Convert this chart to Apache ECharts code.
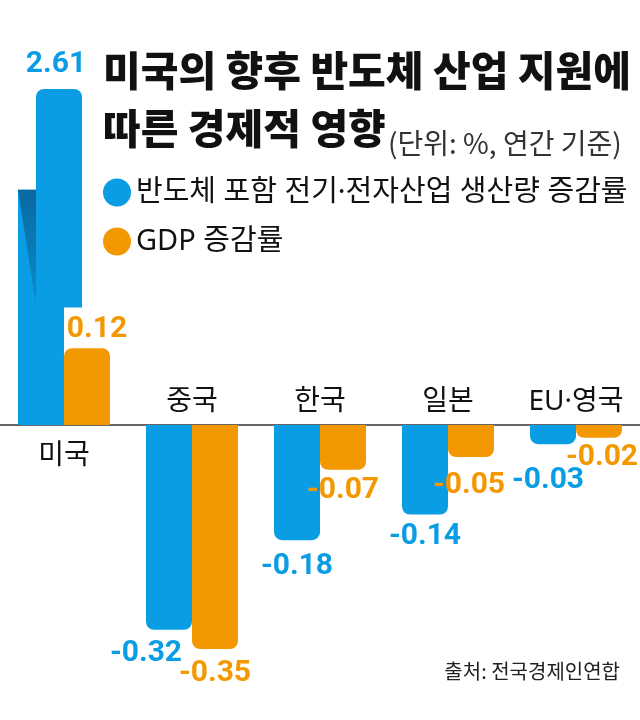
<!DOCTYPE html>
<html>
<head>
<meta charset="utf-8">
<script src="https://cdn.jsdelivr.net/npm/echarts@6/dist/echarts.min.js"></script>
<style>
html,body{margin:0;padding:0;background:#fff;}
#chart{width:640px;height:720px;}
</style>
</head>
<body>
<div id="chart"></div>
<script>
// ---- data ----
const categories = ['미국', '중국', '한국', '일본', 'EU·영국'];
const chipOutput = [2.61, -0.32, -0.18, -0.14, -0.03];
const gdpGrowth = [0.12, -0.35, -0.07, -0.05, -0.02];
const seriesNames = ['반도체 포함 전기·전자산업 생산량 증감률', 'GDP 증감률'];
const titleLines = ['미국의 향후 반도체 산업 지원에', '따른 경제적 영향'];
const unitText = '(단위: %, 연간 기준)';
const sourceText = '출처: 전국경제인연합';

// ---- style ----
const BLUE = '#0b9de3';
const ORANGE = '#f39800';
const BAR_W = 46;
const RADIUS = 8;
const FOLD_SHIFT = 18;
const LABEL_FONT = 'bold 30px Roboto, "Noto Sans", sans-serif';
const KFONT = '"Noto Sans CJK KR", "Noto Sans", sans-serif';
const MIXFONT = '"Noto Sans", "Noto Sans CJK KR", sans-serif';
const CAT_FONT = 'normal 28px "Noto Sans", "Noto Sans CJK KR", sans-serif';
// small label nudges (px) per category, per series
const LABEL_DX = [[-3, -23, 0, 0, -5], [10, 0, 0, -2, 3]];
const LABEL_DY = [[0, 0, 2, -2, 12], [0, 0, -3, 4, -4]];

function makeRender(side, color) {
  return function (params, api) {
    const i = api.value(0);
    const v = api.value(1);
    const base = api.coord([i, 0]);
    const cx = base[0], y0 = base[1];
    const cs = params.coordSys;
    const x = side === 0 ? cx - BAR_W : cx;
    const yEnd = api.coord([i, v])[1];
    const children = [];
    const txt = v.toFixed(2);
    const dx = LABEL_DX[side][i], dy = LABEL_DY[side][i];
    if (yEnd >= cs.y) {
      const top = Math.min(yEnd, y0);
      const h = Math.abs(yEnd - y0);
      children.push({
        type: 'rect',
        shape: { x: x, y: top, width: BAR_W, height: h, r: v >= 0 ? [RADIUS, RADIUS, 0, 0] : [0, 0, RADIUS, RADIUS] },
        style: { fill: color }
      });
      children.push({
        type: 'text',
        style: {
          text: txt, x: x + BAR_W / 2 + dx,
          y: v >= 0 ? yEnd - 19 + dy : yEnd + 24 + dy,
          fill: color, font: LABEL_FONT, align: 'center', verticalAlign: 'middle'
        }
      });
    } else {
      // value exceeds the visible range: draw a folded (broken) bar
      const topY = cs.y;
      const full = y0 - topY;
      const lowTop = topY + full * 0.30;
      const upBottom = topY + full * 0.65;
      children.push({
        type: 'rect',
        shape: { x: x, y: lowTop, width: BAR_W, height: y0 - lowTop },
        style: { fill: color }
      });
      children.push({
        type: 'rect',
        shape: { x: x + FOLD_SHIFT, y: topY, width: BAR_W, height: upBottom - topY, r: [RADIUS, RADIUS, 0, 0] },
        style: { fill: color }
      });
      children.push({
        type: 'polygon',
        shape: { points: [[x, lowTop], [x + FOLD_SHIFT, lowTop], [x + FOLD_SHIFT, upBottom - 2]] },
        style: {
          fill: new echarts.graphic.LinearGradient(0, 0, 0, 1, [
            { offset: 0, color: '#0a68a0' },
            { offset: 1, color: '#0b8ccf' }
          ])
        }
      });
      children.push({
        type: 'text',
        style: {
          text: txt, x: x + FOLD_SHIFT + BAR_W / 2 + dx, y: topY - 25 + dy,
          fill: color, font: LABEL_FONT, align: 'center', verticalAlign: 'middle'
        }
      });
    }
    return { type: 'group', children: children };
  };
}

// category names: below the zero line for positive groups, above it for negative ones
function renderCategory(params, api) {
  const i = api.value(0);
  const v = api.value(1);
  const p = api.coord([i, 0]);
  return {
    type: 'text',
    style: {
      text: categories[i], x: p[0], y: v >= 0 ? p[1] + 31 : p[1] - 23,
      fill: '#111', font: CAT_FONT, align: 'center', verticalAlign: 'middle'
    }
  };
}

const chart = echarts.init(document.getElementById('chart'), null, { renderer: 'canvas' });
chart.setOption({
  animation: false,
  backgroundColor: '#fff',
  title: [
    {
      left: 103, top: 41, padding: 0,
      text: '{a|' + titleLines[0] + '}\n{a|' + titleLines[1] + '}{s| }{b|' + unitText + '}',
      textStyle: {
        rich: {
          a: { fontFamily: KFONT, fontSize: 41, fontWeight: 900, color: '#111', lineHeight: 58 },
          s: { fontSize: 8, lineHeight: 58 },
          b: { fontFamily: KFONT, fontSize: 28, fontWeight: 'normal', color: '#333', lineHeight: 54, verticalAlign: 'bottom' }
        }
      }
    },
    {
      right: 20, top: 661, padding: 0,
      text: sourceText,
      textStyle: { fontFamily: KFONT, fontSize: 20, fontWeight: 'normal', color: '#222' }
    }
  ],
  legend: {
    orient: 'vertical', left: 103, top: 178, padding: 0,
    icon: 'circle', itemWidth: 28, itemHeight: 28, itemGap: 20,
    selectedMode: false,
    data: seriesNames,
    textStyle: { fontFamily: MIXFONT, fontSize: 29, color: '#111' }
  },
  grid: { left: 0, right: 0, top: 89, bottom: 7, containLabel: false, outerBoundsMode: 'none' },
  xAxis: {
    type: 'category', data: categories,
    axisLine: { onZero: true, lineStyle: { color: '#333', width: 1.5 } },
    axisTick: { show: false },
    axisLabel: { show: false },
    splitLine: { show: false }
  },
  yAxis: { type: 'value', min: -0.45, max: 0.525, show: false },
  series: [
    {
      name: seriesNames[0], type: 'custom',
      itemStyle: { color: BLUE },
      encode: { x: 0, y: 1 },
      data: categories.map(function (c, i) { return [i, chipOutput[i]]; }),
      renderItem: makeRender(0, BLUE)
    },
    {
      name: seriesNames[1], type: 'custom',
      itemStyle: { color: ORANGE },
      encode: { x: 0, y: 1 },
      data: categories.map(function (c, i) { return [i, gdpGrowth[i]]; }),
      renderItem: makeRender(1, ORANGE)
    },
    {
      name: 'categoryNames', type: 'custom',
      encode: { x: 0, y: 1 },
      data: categories.map(function (c, i) { return [i, chipOutput[i]]; }),
      renderItem: renderCategory
    }
  ]
});
</script>
</body>
</html>
